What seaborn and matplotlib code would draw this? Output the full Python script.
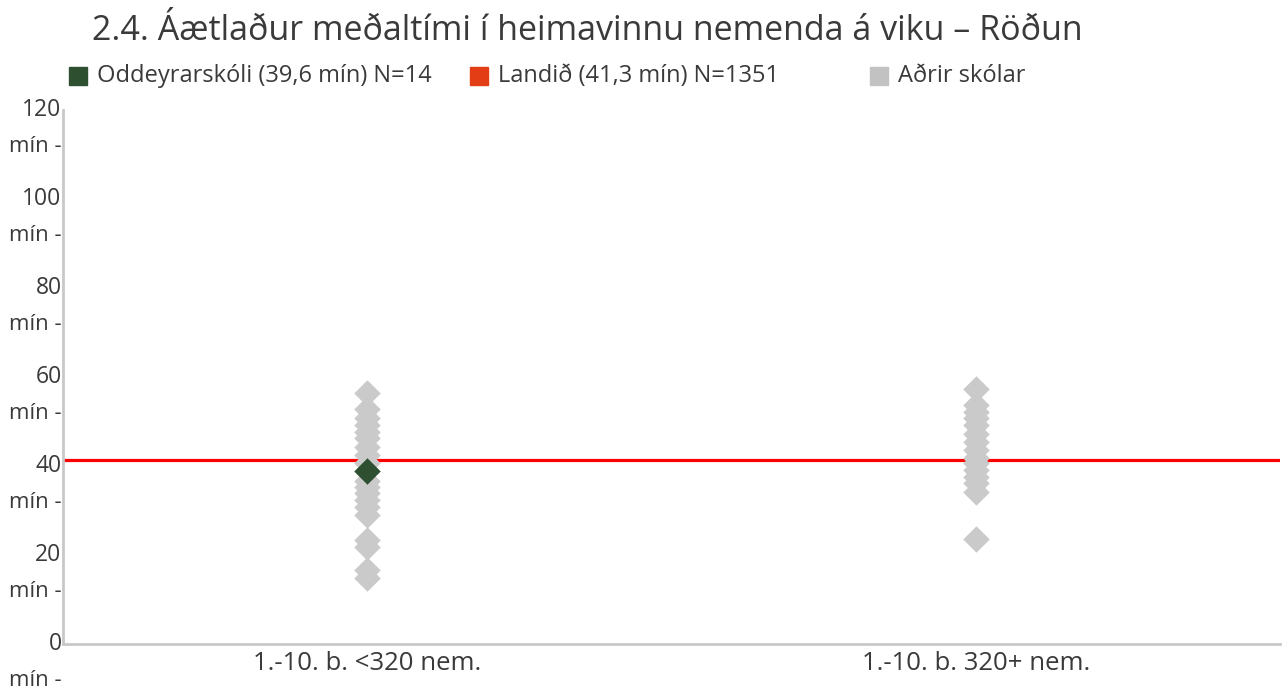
import pandas as pd
import matplotlib.pyplot as plt
import seaborn as sns
from matplotlib.transforms import blended_transform_factory
from matplotlib.patches import Rectangle

# Gögn lesin af myndinni
FLOKKAR = ["1.-10. b. <320 nem.", "1.-10. b. 320+ nem."]
AÐRIR_MINNI = [56.4, 52.8, 50.8, 49.2, 47.7, 46.3, 44.3, 42.5, 40.6, 36.6,
               35.3, 33.9, 32.4, 30.9, 29.0, 23.3, 21.8, 16.6, 14.8]
AÐRIR_STÆRRI = [57.3, 53.7, 52.2, 50.7, 49.2, 47.3, 45.5, 43.6, 41.7, 40.6,
                39.1, 37.6, 36.1, 34.2, 23.6]
SKOLI_FLOKKUR = FLOKKAR[0]
SKOLI_GILDI = 38.8
LANDID = 41.3
Y_TICKS = [0, 20, 40, 60, 80, 100, 120]

LEGEND = [("Oddeyrarskóli (39,6 mín) N=14", "#2e5030"),
          ("Landið (41,3 mín) N=1351", "#e23d14"),
          ("Aðrir skólar", "#c2c2c2")]

TEXTALITUR = "#3a3a3a"
GRAR = "#cacaca"
LETUR = ["Open Sans", "DejaVu Sans"]


def main():
    sns.set_theme(style="white")
    plt.rcParams["font.family"] = LETUR

    df = pd.DataFrame({
        "flokkur": [FLOKKAR[0]] * len(AÐRIR_MINNI) + [FLOKKAR[1]] * len(AÐRIR_STÆRRI),
        "min": AÐRIR_MINNI + AÐRIR_STÆRRI,
    })
    df_skoli = pd.DataFrame({"flokkur": [SKOLI_FLOKKUR], "min": [SKOLI_GILDI]})

    fig = plt.figure(figsize=(12.88, 6.89), dpi=100)
    ax = fig.add_axes([0.0489, 0.0653, 0.945, 0.775])

    ax.axhline(LANDID, color="#ff0000", lw=2.3, zorder=1)
    sns.stripplot(data=df, x="flokkur", y="min", order=FLOKKAR, jitter=False,
                  marker="D", size=13.5, color=GRAR, linewidth=0, ax=ax, zorder=2)
    sns.stripplot(data=df_skoli, x="flokkur", y="min", order=FLOKKAR, jitter=False,
                  marker="D", size=13.5, color="#2e5030", linewidth=0, ax=ax, zorder=3)

    ax.set_xlim(-0.5, 1.5)
    ax.set_ylim(0, 120)
    ax.set_xlabel("")
    ax.set_ylabel("")
    ax.set_yticks(Y_TICKS)
    ax.set_yticklabels([])
    ax.tick_params(axis="both", length=0)
    ax.tick_params(axis="x", labelsize=18.5, labelcolor=TEXTALITUR, pad=5)

    for hlid in ["top", "right"]:
        ax.spines[hlid].set_visible(False)
    for hlid in ["left", "bottom"]:
        ax.spines[hlid].set_color("#c8c8c8")
        ax.spines[hlid].set_linewidth(2)

    trans = blended_transform_factory(ax.transAxes, ax.transData)
    for t in Y_TICKS:
        ax.annotate(str(t), xy=(0, t), xycoords=trans, xytext=(-1, 0),
                    textcoords="offset points", ha="right", va="center",
                    fontsize=16.5, color=TEXTALITUR, annotation_clip=False)
        ax.annotate("mín -", xy=(0, t), xycoords=trans, xytext=(-1, -26),
                    textcoords="offset points", ha="right", va="center",
                    fontsize=16, color=TEXTALITUR, annotation_clip=False)

    fig.text(92 / 1288, 1 - 31 / 689,
             "2.4. Áætlaður meðaltími í heimavinnu nemenda á viku – Röðun",
             fontsize=24.5, color=TEXTALITUR, va="center", ha="left")

    for (texti, litur), x0 in zip(LEGEND, [69, 470, 870]):
        fig.patches.append(Rectangle((x0 / 1288, 1 - 85 / 689), 18 / 1288, 18 / 689,
                                     transform=fig.transFigure, color=litur))
        fig.text((x0 + 28) / 1288, 1 - 76 / 689, texti, fontsize=17,
                 color=TEXTALITUR, va="center", ha="left")

    fig.savefig("out.png", dpi=100)


if __name__ == "__main__":
    main()
